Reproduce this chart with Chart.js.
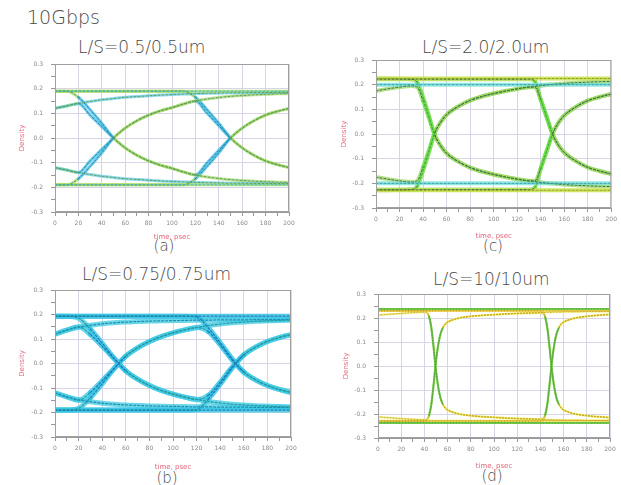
<!DOCTYPE html>
<html>
<head>
<meta charset="utf-8">
<script src="https://cdn.jsdelivr.net/npm/chart.js@4.4.0/dist/chart.umd.min.js"></script>
<style>
  html, body { margin: 0; padding: 0; background: #fff; }
  body { width: 621px; height: 485px; position: relative; overflow: hidden; font-family: "DejaVu Sans", sans-serif; color: #4a4a4a; }
  .txt { position: absolute; white-space: nowrap; line-height: 1; font-weight: 200; }
  .lbl { transform: translateX(-50%); }
  canvas { position: absolute; }
</style>
</head>
<body>
<div class="txt" style="left:27px; top:8px; font-size:19px;">10Gbps</div>
<div class="txt" style="left:78px; top:39px; font-size:17px;">L/S=0.5/0.5um</div>
<div class="txt" style="left:422px; top:39px; font-size:17px;">L/S=2.0/2.0um</div>
<div class="txt" style="left:82px; top:266px; font-size:17px;">L/S=0.75/0.75um</div>
<div class="txt" style="left:433px; top:271px; font-size:17px;">L/S=10/10um</div>
<div class="txt lbl" style="left:164px; top:239px; font-size:15px;">(a)</div>
<div class="txt lbl" style="left:167px; top:471px; font-size:15px;">(b)</div>
<div class="txt lbl" style="left:493px; top:239px; font-size:15px;">(c)</div>
<div class="txt lbl" style="left:492px; top:469px; font-size:15px;">(d)</div>

<canvas id="chartA" width="300" height="200" style="left:0px; top:50px;"></canvas>
<canvas id="chartB" width="310" height="209" style="left:0px; top:276px;"></canvas>
<canvas id="chartC" width="300" height="200" style="left:321px; top:46px;"></canvas>
<canvas id="chartD" width="298" height="205" style="left:323px; top:280px;"></canvas>

<script>
// time axis (psec) and level lines
const span = [0, 200];

// (a) L/S=0.5/0.5um
const tA = [0,10,20,30,40,50,60,70,80,90,100,110,120,130,140,150,160,170,180,190,200];
const aHiOuter = [0.19, 0.19];
const aLoOuter = [-0.19, -0.19];
const aHiInner = [0.12,0.13,0.14,0.148,0.155,0.16,0.165,0.168,0.171,0.174,0.176,0.178,0.18,0.181,0.182,0.183,0.183,0.184,0.184,0.185,0.185];
const aLoInner = [-0.12,-0.13,-0.14,-0.148,-0.155,-0.16,-0.165,-0.168,-0.171,-0.174,-0.176,-0.178,-0.18,-0.181,-0.182,-0.183,-0.183,-0.184,-0.184,-0.185,-0.185];
const aFallStay = [0.19,0.19,0.165,0.115,0.06,0.0,-0.04,-0.07,-0.093,-0.11,-0.123,-0.138,-0.15,-0.158,-0.164,-0.169,-0.172,-0.175,-0.177,-0.179,-0.18];
const aRiseStay = [-0.19,-0.19,-0.165,-0.115,-0.06,0.0,0.04,0.07,0.093,0.11,0.123,0.138,0.15,0.158,0.164,0.169,0.172,0.175,0.177,0.179,0.18];
const aFallRise = [0.12,0.13,0.14,0.093,0.046,0.0,-0.04,-0.07,-0.093,-0.11,-0.123,-0.138,-0.15,-0.1,-0.05,0.0,0.04,0.07,0.093,0.108,0.12];
const aRiseFall = [-0.12,-0.13,-0.14,-0.093,-0.046,0.0,0.04,0.07,0.093,0.11,0.123,0.138,0.15,0.1,0.05,0.0,-0.04,-0.07,-0.093,-0.108,-0.12];
const aHiFall = [0.19,0.19,0.19,0.19,0.19,0.19,0.19,0.19,0.19,0.19,0.19,0.19,0.165,0.115,0.06,0.0,-0.04,-0.07,-0.093,-0.108,-0.12];
const aLoRise = [-0.19,-0.19,-0.19,-0.19,-0.19,-0.19,-0.19,-0.19,-0.19,-0.19,-0.19,-0.19,-0.165,-0.115,-0.06,0.0,0.04,0.07,0.093,0.108,0.12];

// (b) L/S=0.75/0.75um
const tB = [0,10,20,30,40,50,60,70,80,90,100,110,120,130,140,150,160,170,180,190,200];
const bHiOuter = [0.193, 0.193];
const bLoOuter = [-0.19, -0.19];
const bHiInner = [0.12,0.136,0.148,0.156,0.162,0.166,0.169,0.171,0.173,0.174,0.175,0.176,0.177,0.177,0.178,0.178,0.178,0.179,0.179,0.179,0.18];
const bLoInner = [-0.12,-0.136,-0.148,-0.156,-0.162,-0.166,-0.169,-0.171,-0.173,-0.174,-0.175,-0.176,-0.177,-0.177,-0.178,-0.178,-0.178,-0.179,-0.179,-0.179,-0.18];
const bFallStay = [0.193,0.193,0.185,0.14,0.083,0.022,-0.03,-0.064,-0.09,-0.11,-0.125,-0.137,-0.147,-0.155,-0.161,-0.166,-0.169,-0.172,-0.174,-0.176,-0.177];
const bRiseStay = [-0.19,-0.19,-0.183,-0.14,-0.083,-0.022,0.03,0.064,0.09,0.11,0.125,0.137,0.147,0.155,0.161,0.166,0.169,0.172,0.174,0.176,0.177];
const bFallRise = [0.12,0.136,0.15,0.118,0.07,0.02,-0.03,-0.064,-0.09,-0.11,-0.125,-0.137,-0.147,-0.13,-0.076,-0.015,0.035,0.067,0.09,0.106,0.118];
const bRiseFall = [-0.12,-0.136,-0.15,-0.118,-0.07,-0.02,0.03,0.064,0.09,0.11,0.125,0.137,0.147,0.13,0.076,0.015,-0.035,-0.067,-0.09,-0.106,-0.118];
const bHiFall = [0.193,0.193,0.193,0.193,0.193,0.193,0.193,0.193,0.193,0.193,0.193,0.193,0.19,0.145,0.085,0.02,-0.035,-0.067,-0.09,-0.106,-0.118];
const bLoRise = [-0.19,-0.19,-0.19,-0.19,-0.19,-0.19,-0.19,-0.19,-0.19,-0.19,-0.19,-0.19,-0.188,-0.145,-0.085,-0.02,0.035,0.067,0.09,0.106,0.118];

// (c) L/S=2.0/2.0um
const tC = [0,10,20,30,35,40,45,50,55,60,70,80,90,100,110,120,130,135,140,145,150,155,160,170,180,190,200];
const cHiOuter = [0.225, 0.225];
const cHiInner = [0.2, 0.2];
const cLoInner = [-0.2, -0.2];
const cLoOuter = [-0.228, -0.228];
const cFallStay = [0.225,0.225,0.224,0.222,0.21,0.15,0.075,-0.005,-0.048,-0.078,-0.112,-0.136,-0.152,-0.164,-0.174,-0.183,-0.19,-0.193,-0.196,-0.199,-0.201,-0.203,-0.205,-0.208,-0.21,-0.212,-0.213];
const cRiseStay = [-0.228,-0.228,-0.227,-0.225,-0.212,-0.15,-0.075,0.005,0.048,0.078,0.112,0.136,0.152,0.164,0.174,0.183,0.19,0.193,0.196,0.199,0.201,0.203,0.205,0.208,0.21,0.212,0.213];
const cFallRise = [0.175,0.183,0.19,0.195,0.19,0.135,0.065,-0.005,-0.048,-0.078,-0.112,-0.136,-0.152,-0.164,-0.174,-0.183,-0.19,-0.19,-0.14,-0.07,0.0,0.045,0.075,0.11,0.135,0.15,0.162];
const cRiseFall = [-0.175,-0.183,-0.19,-0.195,-0.19,-0.135,-0.065,0.005,0.048,0.078,0.112,0.136,0.152,0.164,0.174,0.183,0.19,0.19,0.14,0.07,0.0,-0.045,-0.075,-0.11,-0.135,-0.15,-0.162];
const cHiFall = [0.222,0.222,0.222,0.222,0.222,0.222,0.222,0.222,0.222,0.222,0.222,0.222,0.222,0.222,0.222,0.222,0.222,0.215,0.14,0.07,0.0,-0.045,-0.075,-0.11,-0.135,-0.15,-0.162];
const cLoRise = [-0.225,-0.225,-0.225,-0.225,-0.225,-0.225,-0.225,-0.225,-0.225,-0.225,-0.225,-0.225,-0.225,-0.225,-0.225,-0.225,-0.225,-0.218,-0.14,-0.07,0.0,0.045,0.075,0.11,0.135,0.15,0.162];

// (d) L/S=10/10um
const tD = [0,20,40,42,44,46,48,50,52,54,56,58,60,65,70,80,100,120,140,142,144,146,148,150,152,154,156,158,160,165,170,180,200];
const dHiG = [0.238, 0.238];
const dHiY = [0.23, 0.23];
const dLoY = [-0.228, -0.228];
const dLoG = [-0.237, -0.237];
const dFallStay = [0.23,0.23,0.23,0.226,0.208,0.16,0.075,-0.02,-0.09,-0.135,-0.16,-0.175,-0.183,-0.193,-0.2,-0.207,-0.214,-0.219,-0.222,-0.223,-0.223,-0.224,-0.224,-0.224,-0.225,-0.225,-0.225,-0.225,-0.226,-0.226,-0.226,-0.227,-0.227];
const dRiseStay = [-0.23,-0.23,-0.23,-0.226,-0.208,-0.16,-0.075,0.02,0.09,0.135,0.16,0.175,0.183,0.193,0.2,0.207,0.214,0.219,0.222,0.223,0.223,0.224,0.224,0.224,0.225,0.225,0.225,0.225,0.226,0.226,0.226,0.227,0.227];
const dFallRise = [0.212,0.219,0.224,0.222,0.205,0.158,0.073,-0.02,-0.09,-0.135,-0.16,-0.175,-0.183,-0.193,-0.2,-0.207,-0.214,-0.219,-0.222,-0.219,-0.203,-0.156,-0.071,0.02,0.09,0.135,0.16,0.175,0.183,0.193,0.2,0.207,0.215];
const dRiseFall = [-0.212,-0.219,-0.224,-0.222,-0.205,-0.158,-0.073,0.02,0.09,0.135,0.16,0.175,0.183,0.193,0.2,0.207,0.214,0.219,0.222,0.219,0.203,0.156,0.071,-0.02,-0.09,-0.135,-0.16,-0.175,-0.183,-0.193,-0.2,-0.207,-0.215];
const dHiFall = [0.23,0.23,0.23,0.23,0.23,0.23,0.23,0.23,0.23,0.23,0.23,0.23,0.23,0.23,0.23,0.23,0.23,0.23,0.23,0.226,0.208,0.16,0.075,-0.02,-0.09,-0.135,-0.16,-0.175,-0.183,-0.193,-0.2,-0.207,-0.215];
const dLoRise = [-0.23,-0.23,-0.23,-0.23,-0.23,-0.23,-0.23,-0.23,-0.23,-0.23,-0.23,-0.23,-0.23,-0.23,-0.23,-0.23,-0.23,-0.23,-0.23,-0.226,-0.208,-0.16,-0.075,0.02,0.09,0.135,0.16,0.175,0.183,0.193,0.2,0.207,0.215];

// axis ticks
const xMajor = 20, xMinor = 10;
const yMajor = 0.1, yMinor = 0.05;

const gridColor = "#d8d6e6";
const axisGray = "#999999";
const tickGray = "#8a8a8a";
const titleRed = "#e2667c";

// trace helper: a translucent band plus a thin speckled core line
function trace(times, values, st, band, core) {
  const pts = times.map((t, i) => ({ x: t, y: values[i] }));
  const steep = (c) =>
    Math.abs(c.p1.parsed.y - c.p0.parsed.y) / (c.p1.parsed.x - c.p0.parsed.x) > st.thr;
  return [
    {
      data: pts, order: 2, borderWidth: st.bandW,
      borderColor: band || st.flatBand,
      segment: band ? {} : { borderColor: (c) => (steep(c) ? st.steepBand : st.flatBand) },
    },
    {
      data: pts, order: 1, borderWidth: st.coreW, borderDash: st.dash,
      borderColor: core || st.flatCore,
      segment: core ? {} : { borderColor: (c) => (steep(c) ? st.steepCore : st.flatCore) },
    },
  ];
}

const framePlugin = {
  id: "frame",
  afterDatasetsDraw(chart) {
    const { ctx, chartArea: a } = chart;
    ctx.save();
    ctx.strokeStyle = "#a0a0a0";
    ctx.lineWidth = 1;
    ctx.strokeRect(a.left + 0.5, a.top + 0.5, a.right - a.left - 1, a.bottom - a.top - 1);
    ctx.restore();
  },
};

function isMajor(v, step) {
  const r = v / step;
  return Math.abs(r - Math.round(r)) < 1e-6;
}

function makeChart(id, datasets, box) {
  return new Chart(document.getElementById(id), {
    type: "line",
    data: { datasets },
    options: {
      responsive: false,
      animation: false,
      events: [],
      layout: { padding: { top: box.top, right: box.right, left: 0, bottom: 0 } },
      plugins: { legend: { display: false }, tooltip: { enabled: false } },
      elements: {
        point: { radius: 0 },
        line: { cubicInterpolationMode: "monotone", borderJoinStyle: "round", borderCapStyle: "round" },
      },
      scales: {
        x: {
          type: "linear", min: 0, max: 200,
          afterFit: (s) => { s.height = box.xh; },
          ticks: {
            stepSize: xMinor, autoSkip: false, maxRotation: 0, padding: 4,
            color: tickGray, font: { family: "DejaVu Sans", size: 6 },
            callback: (v) => (isMajor(v, xMajor) ? String(v) : ""),
          },
          grid: {
            color: (c) => (c.tick && isMajor(c.tick.value, xMajor) ? gridColor : "rgba(0,0,0,0)"),
            tickLength: 4, tickColor: axisGray,
          },
          border: { color: axisGray },
          title: {
            display: true, text: "time, psec", color: titleRed,
            font: { family: "DejaVu Sans", size: 7 }, padding: { top: 0, bottom: box.xt },
          },
        },
        y: {
          min: -0.3, max: 0.3,
          afterFit: (s) => { s.width = 55; },
          ticks: {
            stepSize: yMinor, autoSkip: false, padding: 8,
            color: tickGray, font: { family: "DejaVu Sans", size: 6 },
            callback: (v) => (isMajor(v, yMajor) ? v.toFixed(1) : ""),
          },
          grid: {
            color: (c) => (c.tick && isMajor(c.tick.value, yMajor) ? gridColor : "rgba(0,0,0,0)"),
            tickLength: 4, tickColor: axisGray,
          },
          border: { color: axisGray },
          title: {
            display: true, text: "Density", color: titleRed,
            font: { family: "DejaVu Sans", size: 7 }, padding: { top: box.yt, bottom: 0 },
          },
        },
      },
    },
    plugins: [framePlugin],
  });
}

// panel styles
const styleA = {
  thr: 0.0044, bandW: 3, coreW: 1, dash: [2, 2],
  steepBand: "rgba(60,190,228,0.75)", steepCore: "#2a80a8",
  flatBand: "rgba(160,216,100,0.7)", flatCore: "#5c9a5a",
};
const styleB = {
  thr: 0.0045, bandW: 5, coreW: 1.2, dash: [2, 2],
  steepBand: "rgba(50,196,232,0.8)", steepCore: "#1f7fae",
  flatBand: "rgba(58,200,228,0.75)", flatCore: "#2a9a9c",
};
const styleC = {
  thr: 0.011, bandW: 4, coreW: 1, dash: [2, 2],
  steepBand: "rgba(110,222,70,0.8)", steepCore: "#48ae40",
  flatBand: "rgba(150,212,90,0.72)", flatCore: "#3e7048",
};
const styleD = {
  thr: 0.012, bandW: 2, coreW: 1, dash: [1, 2],
  steepBand: "rgba(120,210,70,0.85)", steepCore: "#5aa040",
  flatBand: "rgba(236,236,90,0.8)", flatCore: "#c9a030",
};

makeChart("chartA", [
  ...trace(span, aHiOuter, styleA, "rgba(170,222,92,0.8)", "#3ab4d8"),
  ...trace(span, aLoOuter, styleA, "rgba(170,222,92,0.8)", "#3ab4d8"),
  ...trace(tA, aHiInner, styleA, "rgba(80,200,230,0.65)", "#5c9a5a"),
  ...trace(tA, aLoInner, styleA, "rgba(80,200,230,0.65)", "#5c9a5a"),
  ...trace(tA, aFallStay, styleA),
  ...trace(tA, aRiseStay, styleA),
  ...trace(tA, aFallRise, styleA),
  ...trace(tA, aRiseFall, styleA),
  ...trace(tA, aHiFall, styleA),
  ...trace(tA, aLoRise, styleA),
], { top: 14, right: 11, xh: 38, xt: 8.8, yt: 17.8 });

makeChart("chartB", [
  ...trace(span, bHiOuter, styleB, "rgba(50,196,232,0.8)", "#1f7fae"),
  ...trace(span, bLoOuter, styleB, "rgba(50,196,232,0.8)", "#1f7fae"),
  ...trace(tB, bHiInner, styleB, "rgba(60,200,225,0.75)", "#1d8fb0"),
  ...trace(tB, bLoInner, styleB, "rgba(60,200,225,0.75)", "#1d8fb0"),
  ...trace(tB, bFallStay, styleB),
  ...trace(tB, bRiseStay, styleB),
  ...trace(tB, bFallRise, styleB),
  ...trace(tB, bRiseFall, styleB),
  ...trace(tB, bHiFall, styleB),
  ...trace(tB, bLoRise, styleB),
], { top: 14, right: 19, xh: 48, xt: 13.8, yt: 17.8 });

makeChart("chartC", [
  ...trace(span, cHiOuter, styleC, "rgba(200,226,70,0.85)", "#93a02e"),
  ...trace(span, cHiInner, styleC, "rgba(110,226,214,0.75)", "#3a9fb0"),
  ...trace(span, cLoInner, styleC, "rgba(110,226,214,0.75)", "#3a9fb0"),
  ...trace(span, cLoOuter, styleC, "rgba(200,226,70,0.85)", "#93a02e"),
  ...trace(tC, cFallStay, styleC),
  ...trace(tC, cRiseStay, styleC),
  ...trace(tC, cFallRise, styleC),
  ...trace(tC, cRiseFall, styleC),
  ...trace(tC, cHiFall, styleC),
  ...trace(tC, cLoRise, styleC),
], { top: 14, right: 9, xh: 38, xt: 5.8, yt: 18.8 });

makeChart("chartD", [
  ...trace(span, dHiG, styleD, "rgba(100,204,60,0.9)", "#4f9a38"),
  ...trace(span, dHiY, styleD, "rgba(232,228,70,0.9)", "#d8952e"),
  ...trace(span, dLoY, styleD, "rgba(232,228,70,0.9)", "#d8952e"),
  ...trace(span, dLoG, styleD, "rgba(100,204,60,0.9)", "#4f9a38"),
  ...trace(tD, dFallStay, styleD),
  ...trace(tD, dRiseStay, styleD),
  ...trace(tD, dFallRise, styleD),
  ...trace(tD, dRiseFall, styleD),
  ...trace(tD, dHiFall, styleD),
  ...trace(tD, dLoRise, styleD),
], { top: 14, right: 11, xh: 47, xt: 14.8, yt: 18.8 });
</script>
</body>
</html>
